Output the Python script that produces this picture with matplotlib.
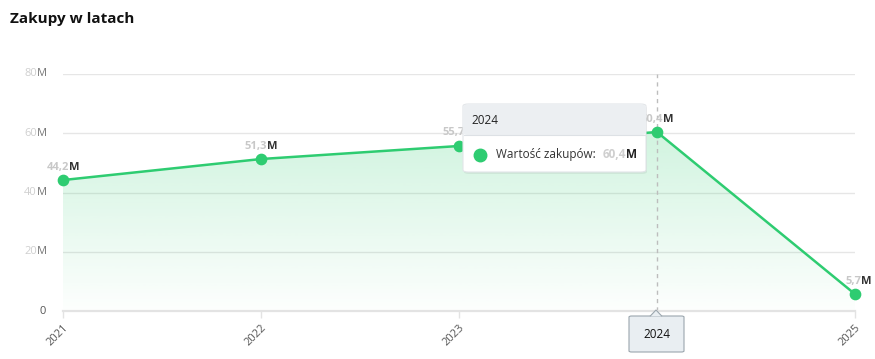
import numpy as np
import matplotlib.pyplot as plt
from matplotlib.patches import FancyBboxPatch, Polygon
from matplotlib.lines import Line2D

plt.rcParams['font.family'] = ['Open Sans', 'DejaVu Sans']

years = [2021, 2022, 2023, 2024, 2025]
values = [44.2, 51.3, 55.7, 60.4, 5.7]          # mln zł
value_labels = ["44,2", "51,3", "55,7", "60,4", "5,7"]
y_ticks = [0, 20, 40, 60, 80]
y_tick_labels = ["0", "20", "40", "60", "80"]
hover_year = 2024

GREEN = "#2ecc71"
W, H = 875, 359

fig = plt.figure(figsize=(W / 100, H / 100), dpi=100)
fig.patch.set_facecolor("white")


def fx(x):
    return x / W


def fy(y):
    return 1 - y / H


ax = fig.add_axes([fx(63), fy(311), fx(855) - fx(63), (311 - 74) / H])
ax.set_xlim(years[0], years[-1])
ax.set_ylim(0, 80)

# grid
for t in y_ticks[1:]:
    ax.axhline(t, color="#e6e6e6", lw=1, zorder=0)
for s in ["top", "right", "left"]:
    ax.spines[s].set_visible(False)
ax.spines["bottom"].set_color("#e3e3e3")
ax.spines["bottom"].set_linewidth(1.6)

ax.set_yticks(y_ticks)
ax.set_yticklabels([])
ax.tick_params(axis="y", length=0)
ax.set_xticks(years)
ax.set_xticklabels([str(y) for y in years], rotation=45, ha="right", va="top",
                   rotation_mode="anchor", fontsize=8, color="#555555")
ax.tick_params(axis="x", length=5, color="#e3e3e3", width=1, pad=3)

# y tick labels: blurred digits + "M"
for t, lab in zip(y_ticks, y_tick_labels):
    if t == 0:
        ax.annotate(lab, xy=(0, t), xycoords=("axes fraction", "data"),
                    xytext=(-17, 0), textcoords="offset pixels",
                    ha="right", va="center", fontsize=8, color="#555555")
    else:
        ax.annotate(lab, xy=(0, t), xycoords=("axes fraction", "data"),
                    xytext=(-26, 0), textcoords="offset pixels",
                    ha="right", va="center", fontsize=8, color="#cfcfcf")
        ax.annotate("M", xy=(0, t), xycoords=("axes fraction", "data"),
                    xytext=(-26, 0), textcoords="offset pixels",
                    ha="left", va="center", fontsize=8, color="#777777")

# gradient area
grad = np.linspace(0.0, 1.0, 256).reshape(-1, 1)
rgba = np.zeros((256, 1, 4))
rgba[..., 0] = 0.18
rgba[..., 1] = 0.80
rgba[..., 2] = 0.44
rgba[..., 3] = 0.01 + 0.21 * grad
img = ax.imshow(rgba, extent=[years[0], years[-1], 0, max(values)],
                origin="lower", aspect="auto", zorder=1)
clip = Polygon(np.column_stack([[years[0]] + years + [years[-1]],
                                [0] + values + [0]]),
               transform=ax.transData, facecolor="none", edgecolor="none")
ax.add_patch(clip)
img.set_clip_path(clip)
ax.set_xlim(years[0], years[-1])
ax.set_ylim(0, 80)

# crosshair
ax.axvline(hover_year, color="#bdbdbd", lw=1, ls=(0, (3, 3)), zorder=2)

ax.plot(years, values, color=GREEN, lw=1.8, zorder=3, clip_on=False)
ax.scatter(years, values, s=55, color=GREEN, zorder=4, clip_on=False)

# data labels (centred above the point)
for x, v, lab in zip(years, values, value_labels):
    ax.annotate(lab, xy=(x, v), xytext=(6, 13), textcoords="offset pixels",
                ha="right", va="center", fontsize=8, fontweight="bold",
                color="#c8c8c8", zorder=5, annotation_clip=False)
    ax.annotate("M", xy=(x, v), xytext=(6, 13), textcoords="offset pixels",
                ha="left", va="center", fontsize=8, fontweight="bold",
                color="#333333", zorder=5, annotation_clip=False)

# title
fig.text(fx(10), fy(19), "Zakupy w latach", fontsize=11, fontweight="bold",
         color="#111111", ha="left", va="center")

# tooltip
tx0, ty0, tx1, ty1 = 463, 104, 646, 172
shadow = FancyBboxPatch((fx(tx0 + 1), fy(ty1 + 2)), fx(tx1 - tx0), (ty1 - ty0) / H,
                        boxstyle="round,pad=0,rounding_size=0.006",
                        transform=fig.transFigure, facecolor="#000000",
                        alpha=0.06, edgecolor="none", zorder=9)
body = FancyBboxPatch((fx(tx0), fy(ty1)), fx(tx1 - tx0), (ty1 - ty0) / H,
                      boxstyle="round,pad=0,rounding_size=0.006",
                      transform=fig.transFigure, facecolor="white",
                      edgecolor="#e2e5e8", lw=0.8, zorder=10)
header = FancyBboxPatch((fx(tx0 + 0.5), fy(135)), fx(tx1 - tx0 - 1), (135 - ty0 - 0.5) / H,
                        boxstyle="round,pad=0,rounding_size=0.005",
                        transform=fig.transFigure, facecolor="#eceff2",
                        edgecolor="none", zorder=11)
fig.patches.extend([shadow, body, header])
fig.lines.append(Line2D([fx(tx0 + 0.5), fx(tx1 - 0.5)], [fy(135), fy(135)],
                        transform=fig.transFigure, color="#dde1e5", lw=0.8, zorder=12))
fig.text(fx(471), fy(120), str(hover_year), fontsize=8.5, color="#222222",
         ha="left", va="center", zorder=13)
fig.lines.append(Line2D([fx(480)], [fy(155)], transform=fig.transFigure,
                        marker="o", markersize=9, color=GREEN, lw=0, zorder=13))
fig.text(fx(496), fy(155), "Wartość zakupów:", fontsize=8.5, color="#333333",
         ha="left", va="center", zorder=13)
fig.text(fx(626), fy(155), value_labels[years.index(hover_year)], fontsize=8.5,
         fontweight="bold", color="#cfcfcf", ha="right", va="center", zorder=13)
fig.text(fx(626), fy(155), "M", fontsize=8.5, fontweight="bold", color="#222222",
         ha="left", va="center", zorder=13)

# x-axis hover label
bx0, by0, bx1, by1 = 629, 316, 684, 352
fig.patches.append(FancyBboxPatch((fx(bx0), fy(by1)), fx(bx1 - bx0), (by1 - by0) / H,
                                  boxstyle="round,pad=0,rounding_size=0.003",
                                  transform=fig.transFigure, facecolor="#e9eef2",
                                  edgecolor="#9ba6ae", lw=0.8, zorder=10))
fig.patches.append(Polygon([[fx(650), fy(316.3)], [fx(656), fy(310)], [fx(662), fy(316.3)]],
                           closed=False, transform=fig.transFigure, facecolor="#e9eef2",
                           edgecolor="#9ba6ae", lw=0.8, zorder=11))
fig.text(fx(656.5), fy(334), str(hover_year), fontsize=8.5, color="#111111",
         ha="center", va="center", zorder=12)

fig.savefig("out.png", dpi=100, facecolor="white")
